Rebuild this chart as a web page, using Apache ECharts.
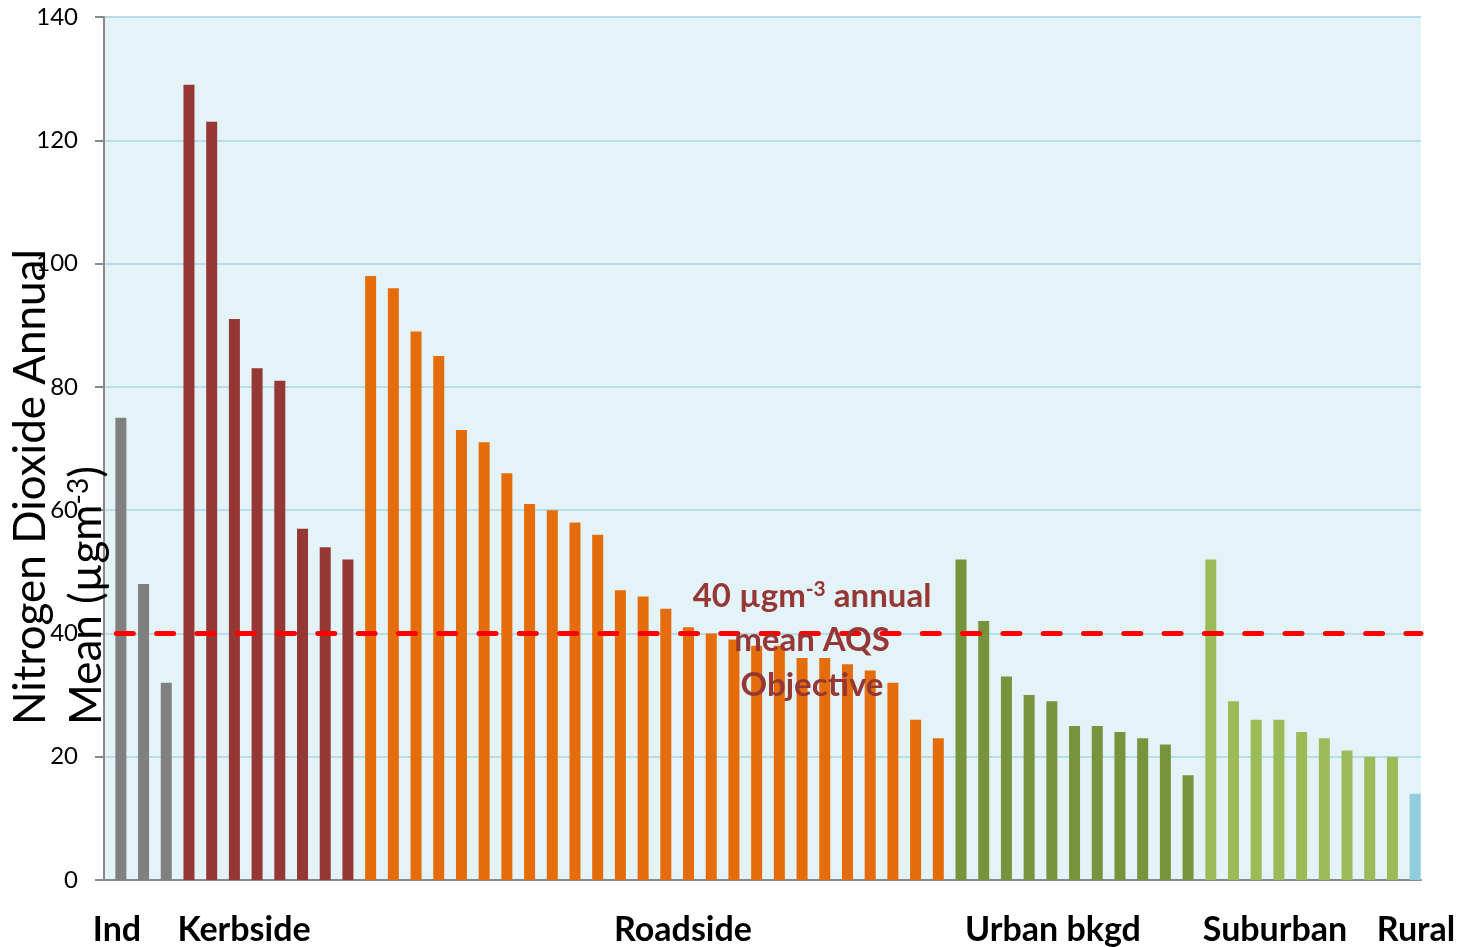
<!DOCTYPE html>
<html lang="en">
<head>
<meta charset="utf-8">
<script src="https://cdn.jsdelivr.net/npm/echarts@6/dist/echarts.min.js"></script>
<style>
  html, body { margin: 0; padding: 0; background: #fff; }
  #chart { width: 1468px; height: 947px; }
</style>
</head>
<body>
<div id="chart"></div>
<script>
// NO2 annual means by site type (ugm-3)
var ind      = [75, 48, 32];
var kerbside = [129, 123, 91, 83, 81, 57, 54, 52];
var roadside = [98, 96, 89, 85, 73, 71, 66, 61, 60, 58, 56, 47, 46, 44, 41, 40, 39, 38, 38, 36, 36, 35, 34, 32, 26, 23];
var urban    = [52, 42, 33, 30, 29, 25, 25, 24, 23, 22, 17];
var suburban = [52, 29, 26, 26, 24, 23, 21, 20, 20];
var rural    = [14];
var groupNames = ['Ind', 'Kerbside', 'Roadside', 'Urban bkgd', 'Suburban', 'Rural'];
var yTicks = [0, 20, 40, 60, 80, 100, 120, 140];
var objective = 40;

var groups = [ind, kerbside, roadside, urban, suburban, rural];
var colors = ['#808080', '#953735', '#E46C0A', '#77933C', '#9BBB59', '#93CDDD'];

var total = 0;
groups.forEach(function (g) { total += g.length; });
var categories = [];
for (var i = 0; i < total; i++) categories.push(String(i + 1));

var font = 'Lato, "Open Sans", sans-serif';

// left slot stays empty so the bars sit on the right half of each band
var series = [{
    type: 'bar', name: 'pad', stack: 'pad', barWidth: 11, barGap: '0%',
    data: categories.map(function () { return '-'; })
}];
var offset = 0;
groups.forEach(function (g, k) {
    var data = categories.map(function () { return '-'; });
    g.forEach(function (v, j) { data[offset + j] = v; });
    offset += g.length;
    series.push({
        type: 'bar', name: groupNames[k], stack: 'sites', barWidth: 11, barGap: '0%',
        itemStyle: { color: colors[k] },
        data: data
    });
});
series[1].markLine = {
    silent: true, symbol: 'none', animation: false, z: 10,
    label: { show: false },
    lineStyle: { color: '#FF0000', width: 5, type: [17, 23.3], dashOffset: 28, cap: 'round' },
    data: [{ yAxis: objective }]
};

var red = '#953735';
function label(txt, x) {
    return { type: 'text', x: x, y: 930,
             style: { text: txt, font: 'bold 34px ' + font, fill: '#000', align: 'center', verticalAlign: 'middle' } };
}

var chart = echarts.init(document.getElementById('chart'));
chart.setOption({
    animation: false,
    grid: { left: 104, right: 47, top: 17, bottom: 67, show: true, backgroundColor: '#E4F3F8', borderWidth: 0 },
    xAxis: {
        type: 'category', data: categories, boundaryGap: true,
        axisLine: { lineStyle: { color: '#898989', width: 2 } },
        axisTick: { show: false }, axisLabel: { show: false }
    },
    yAxis: {
        type: 'value', min: yTicks[0], max: yTicks[yTicks.length - 1], interval: 20,
        axisLine: { show: true, lineStyle: { color: '#898989', width: 2 } },
        axisTick: { show: true, length: 9, lineStyle: { color: '#898989', width: 2 } },
        axisLabel: { fontSize: 24, color: '#000', fontFamily: font, margin: 26 },
        splitLine: { lineStyle: { color: '#B7DDE8', width: 2 } }
    },
    series: series,
    graphic: [
        { type: 'text', x: 31, y: 725, rotation: Math.PI / 2, z: 20,
          style: { text: 'Nitrogen Dioxide Annual', font: '44px ' + font, fill: '#000', align: 'left', verticalAlign: 'middle' } },
        { type: 'text', x: 87, y: 725, rotation: Math.PI / 2, z: 20,
          style: { text: '{a|Mean (µgm}{s|-3}{a|)}', align: 'left', verticalAlign: 'middle',
                   rich: { a: { fontSize: 44, fontFamily: font, fill: '#000' },
                           s: { fontSize: 28, fontFamily: font, fill: '#000', padding: [0, 0, 16, 0] } } } },
        { type: 'text', x: 812, y: 596, z: 20,
          style: { text: '{a|40 µgm}{s|-3}{a| annual}', align: 'center', verticalAlign: 'middle',
                   rich: { a: { fontSize: 33, fontWeight: 'bold', fontFamily: font, fill: red },
                           s: { fontSize: 21, fontWeight: 'bold', fontFamily: font, fill: red, padding: [0, 0, 14, 0] } } } },
        { type: 'text', x: 812, y: 640, z: 20,
          style: { text: 'mean AQS', font: 'bold 33px ' + font, fill: red, align: 'center', verticalAlign: 'middle' } },
        { type: 'text', x: 812, y: 685, z: 20,
          style: { text: 'Objective', font: 'bold 33px ' + font, fill: red, align: 'center', verticalAlign: 'middle' } },
        label(groupNames[0], 117),
        label(groupNames[1], 244),
        label(groupNames[2], 683),
        label(groupNames[3], 1053),
        label(groupNames[4], 1275),
        label(groupNames[5], 1416)
    ]
});
</script>
</body>
</html>
